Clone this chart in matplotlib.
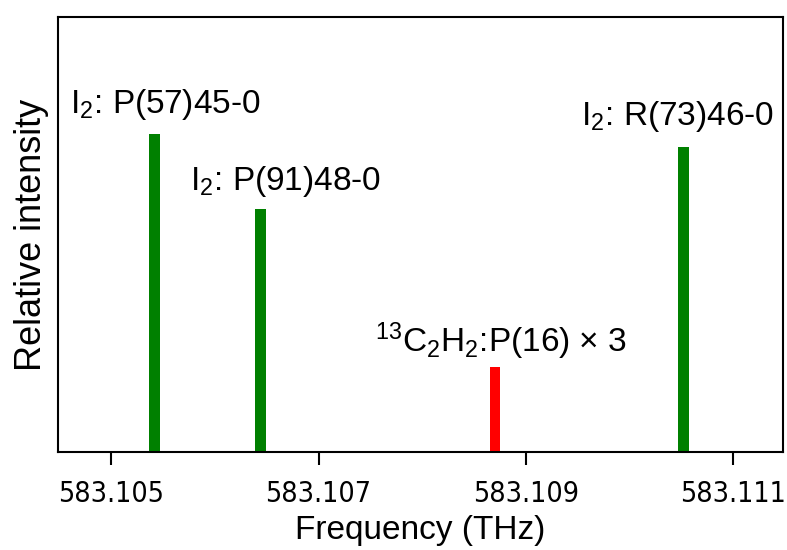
import matplotlib
matplotlib.use("Agg")
import matplotlib.pyplot as plt

plt.rcParams['font.family'] = ['Liberation Sans', 'DejaVu Sans']
plt.rcParams['mathtext.fontset'] = 'custom'
plt.rcParams['mathtext.rm'] = 'Liberation Sans'
plt.rcParams['mathtext.it'] = 'Liberation Sans'

# line positions (THz) and relative intensities (acetylene line scaled x3)
freqs = [583.10542, 583.10644, 583.10870, 583.11052]
intensity = [1.0, 0.764, 0.267, 0.959]
colors = ['green', 'green', 'red', 'green']

labels = [r'I$_2$: P(57)45-0', r'I$_2$: P(91)48-0',
          r'$^{13}$C$_2$H$_2$:P(16) × 3', r'I$_2$: R(73)46-0']
label_x = [583.10460, 583.10576, 583.10754, 583.10953]
label_y = [1.066, 0.824, 0.314, 1.028]

tick_vals = [583.105, 583.107, 583.109, 583.111]

fig = plt.figure(figsize=(7.87, 5.5), dpi=100)
ax = fig.add_axes([0.074, 0.178, 0.921, 0.791])

ax.bar(freqs, intensity, width=0.0001, color=colors)

for lx, ly, txt in zip(label_x, label_y, labels):
    ax.text(lx, ly, txt, fontsize=24, ha='left', va='baseline')

ax.set_xlim(583.10449, 583.11148)
ax.set_ylim(0, 1.368)
ax.set_yticks([])
ax.set_xticks(tick_vals)
ax.set_xticklabels([f"{v:.3f}" for v in tick_vals],
                   family='DejaVu Sans', stretch='condensed',
                   fontsize=20.5)
ax.tick_params(axis='x', length=9, width=1.5, pad=11)
for sp in ax.spines.values():
    sp.set_linewidth(1.5)

ax.set_xlabel("Frequency (THz)", fontsize=24, labelpad=5)
ax.set_ylabel("Relative intensity", fontsize=26, labelpad=7)

fig.savefig("out.png", dpi=100)
